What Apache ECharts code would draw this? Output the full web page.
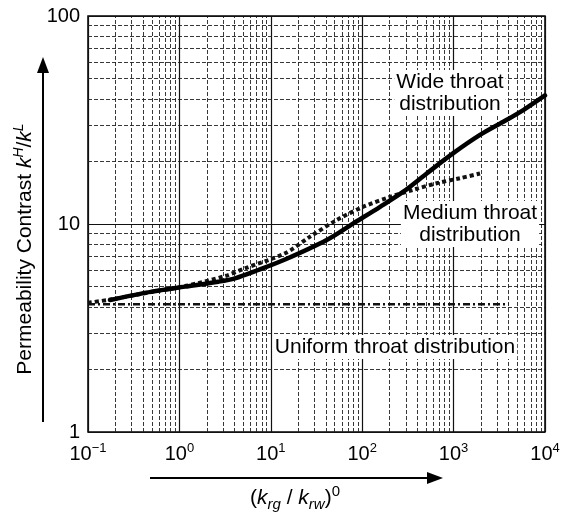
<!DOCTYPE html>
<html>
<head>
<meta charset="utf-8">
<script src="https://cdn.jsdelivr.net/npm/echarts@6/dist/echarts.min.js"></script>
<style>
  html, body { margin: 0; padding: 0; background: #fff; }
  #chart { width: 563px; height: 512px; }
</style>
</head>
<body>
<div id="chart"></div>
<script>
// Permeability contrast kH/kL against end-point mobility ratio (krg/krw)^0
const wideX = [0.174, 0.5, 1.15, 2.67, 4.06, 7.3, 14.3, 40.9, 80, 157, 282, 508, 993, 1945, 3500, 5790, 10000];
const wideY = [4.31, 4.73, 5.0, 5.28, 5.48, 6.01, 6.75, 8.38, 10.07, 12.1, 14.3, 17.5, 21.9, 26.8, 31.0, 35.3, 41.5];

const mediumX = [0.1, 0.174, 0.476, 1.15, 3.16, 5.2, 14.3, 26.9, 52.6, 103, 201, 362, 653, 1175, 1945];
const mediumY = [4.18, 4.33, 4.7, 5.03, 5.62, 6.12, 7.23, 8.69, 10.45, 12.1, 13.5, 14.6, 15.7, 16.6, 17.5];

const uniformX = [0.1, 4000];
const uniformY = [4.11, 4.11];

const xDecades = [-1, 0, 1, 2, 3, 4];
const yDecades = [0, 1, 2];

const FONT = '"Liberation Sans", Arial, Helvetica, sans-serif';

const pairs = (xs, ys) => xs.map((x, i) => [x, ys[i]]);

// log-paper rulings: 1..9 per decade, decades drawn solid
function rulings(decades, axisKey) {
  const out = [];
  decades.forEach((e, idx) => {
    const last = idx === decades.length - 1;
    for (let k = 1; k <= (last ? 1 : 9); k++) {
      const v = k * Math.pow(10, e);
      const major = k === 1;
      const item = {};
      item[axisKey] = v;
      item.lineStyle = major
        ? { color: '#111', width: 1.2, type: 'solid' }
        : { color: '#222', width: 1, type: [4, 2], opacity: 0.9 };
      out.push(item);
    }
  });
  return out;
}

const sup = { fontSize: 13, fontFamily: FONT, color: '#000', verticalAlign: 'top', lineHeight: 13 };

const chart = echarts.init(document.getElementById('chart'), null, { renderer: 'canvas' });

chart.setOption({
  animation: false,
  backgroundColor: '#fff',
  grid: {
    left: 88, right: 18, top: 16, bottom: 80,
    show: true, borderColor: '#000', borderWidth: 1.5, backgroundColor: '#fff'
  },
  xAxis: {
    type: 'log', logBase: 10, min: 0.1, max: 10000,
    axisLine: { show: false }, axisTick: { show: false }, splitLine: { show: false },
    axisLabel: {
      margin: 10,
      formatter: v => {
        const e = Math.round(Math.log10(v));
        return '{b|10}{s|' + (e < 0 ? '\u2212' + (-e) : e) + '}';
      },
      rich: {
        b: { fontSize: 20, fontFamily: FONT, color: '#000', lineHeight: 24 },
        s: sup
      }
    }
  },
  yAxis: {
    type: 'log', logBase: 10, min: 1, max: 100,
    axisLine: { show: false }, axisTick: { show: false }, splitLine: { show: false },
    axisLabel: { margin: 8, fontSize: 20, fontFamily: FONT, color: '#000' }
  },
  series: [
    {
      name: 'grid',
      type: 'line',
      data: [],
      silent: true,
      markLine: {
        silent: true, z: 1, symbol: 'none', animation: false,
        label: { show: false },
        emphasis: { disabled: true },
        data: rulings(xDecades, 'xAxis').concat(rulings(yDecades, 'yAxis'))
      }
    },
    {
      name: 'Uniform throat distribution',
      type: 'line', z: 3, symbol: 'none',
      data: pairs(uniformX, uniformY),
      lineStyle: { color: '#111', width: 2.5, type: [7, 3, 2, 3] }
    },
    {
      name: 'Medium throat distribution',
      type: 'line', z: 3, symbol: 'none', smooth: 0.3,
      data: pairs(mediumX, mediumY),
      lineStyle: { color: '#111', width: 4, type: [4, 3] }
    },
    {
      name: 'Wide throat distribution',
      type: 'line', z: 4, symbol: 'none', smooth: 0.3,
      data: pairs(wideX, wideY),
      lineStyle: { color: '#000', width: 4.5, type: 'solid', cap: 'round' }
    }
  ],
  graphic: [
    // vertical axis arrow
    { type: 'line', shape: { x1: 43, y1: 422, x2: 43, y2: 70 }, style: { stroke: '#000', lineWidth: 2 } },
    { type: 'polygon', shape: { points: [[43, 57], [37, 73], [49, 73]] }, style: { fill: '#000' } },
    // horizontal axis arrow
    { type: 'line', shape: { x1: 150, y1: 478, x2: 430, y2: 478 }, style: { stroke: '#000', lineWidth: 2 } },
    { type: 'polygon', shape: { points: [[443, 478], [427, 472], [427, 484]] }, style: { fill: '#000' } },
    // axis titles
    {
      type: 'text', x: 25, y: 249, rotation: Math.PI / 2,
      style: {
        text: 'Permeability Contrast {i|k}{s|H}/{i|k}{s|L}',
        font: '21px ' + FONT, fill: '#000', align: 'center', verticalAlign: 'middle',
        rich: {
          i: { fontSize: 21, fontFamily: FONT, fontStyle: 'italic', lineHeight: 26 },
          s: { fontSize: 14, fontFamily: FONT, fontStyle: 'italic', verticalAlign: 'top', lineHeight: 14 }
        }
      }
    },
    {
      type: 'text', x: 295, y: 498,
      style: {
        text: '({i|k}{sub|rg} / {i|k}{sub|rw}){sup|0}',
        font: '21px ' + FONT, fill: '#000', align: 'center', verticalAlign: 'middle',
        rich: {
          i: { fontSize: 21, fontFamily: FONT, fontStyle: 'italic', lineHeight: 28 },
          sub: { fontSize: 15, fontFamily: FONT, fontStyle: 'italic', verticalAlign: 'bottom', lineHeight: 15 },
          sup: { fontSize: 15, fontFamily: FONT, verticalAlign: 'top', lineHeight: 15 }
        }
      }
    },
    // curve annotations
    {
      type: 'text', x: 450, y: 93, z: 10,
      style: {
        text: 'Wide throat\ndistribution', font: '21px ' + FONT, fill: '#000',
        align: 'center', verticalAlign: 'middle', lineHeight: 22,
        backgroundColor: '#fff', padding: [1, 2]
      }
    },
    {
      type: 'text', x: 470, y: 224, z: 10,
      style: {
        text: 'Medium throat\ndistribution', font: '21px ' + FONT, fill: '#000',
        align: 'center', verticalAlign: 'middle', lineHeight: 22,
        backgroundColor: '#fff', padding: [1, 2]
      }
    },
    {
      type: 'text', x: 395, y: 347, z: 10,
      style: {
        text: 'Uniform throat distribution', font: '21px ' + FONT, fill: '#000',
        align: 'center', verticalAlign: 'middle', lineHeight: 22,
        backgroundColor: '#fff', padding: [1, 2]
      }
    }
  ]
});
</script>
</body>
</html>
